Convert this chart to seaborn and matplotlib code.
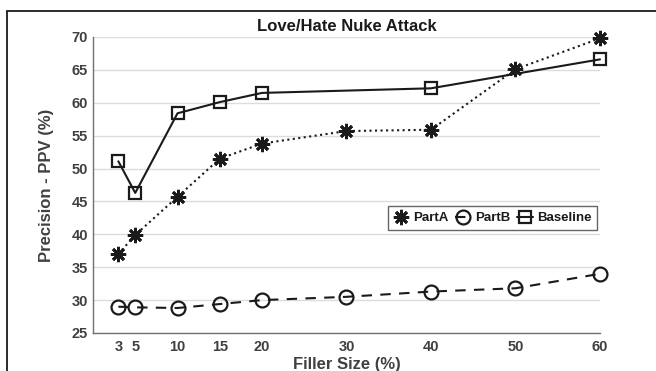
import matplotlib
matplotlib.use("Agg")
import matplotlib.pyplot as plt
import seaborn as sns
import pandas as pd
from matplotlib.patches import Rectangle

# Filler sizes (%) and precision values per detector
filler_all = [3, 5, 10, 15, 20, 30, 40, 50, 60]
part_a = [37.0, 39.9, 45.7, 51.5, 53.8, 55.7, 55.9, 65.1, 69.8]
part_b = [29.0, 28.9, 28.8, 29.4, 30.0, 30.5, 31.3, 31.8, 34.0]
filler_base = [3, 5, 10, 15, 20, 40, 60]
baseline = [51.1, 46.3, 58.4, 60.1, 61.5, 62.2, 66.6]

x_ticks = [3, 5, 10, 15, 20, 30, 40, 50, 60]
y_ticks = [25, 30, 35, 40, 45, 50, 55, 60, 65, 70]

df = pd.concat([
    pd.DataFrame({"filler": filler_all, "ppv": part_a, "method": "PartA"}),
    pd.DataFrame({"filler": filler_all, "ppv": part_b, "method": "PartB"}),
    pd.DataFrame({"filler": filler_base, "ppv": baseline, "method": "Baseline"}),
], ignore_index=True)

sns.set_theme(style="white")
plt.rcParams["font.family"] = ["Liberation Sans", "DejaVu Sans"]
plt.rcParams["font.weight"] = "bold"

fig = plt.figure(figsize=(6.56, 3.71), dpi=100)
ax = fig.add_axes([93 / 656, 1 - 333 / 371, 507 / 656, 296 / 371])

styles = {
    "PartA": dict(marker=(8, 2, 0), ls=":", ms=11, mew=2.0),
    "PartB": dict(marker="o", ls=(0, (5, 4)), ms=10, mew=1.6),
    "Baseline": dict(marker="s", ls="-", ms=8.5, mew=1.6),
}

for name, st in styles.items():
    sub = df[df["method"] == name]
    sns.lineplot(data=sub, x="filler", y="ppv", ax=ax, color="#1a1a1a",
                 linestyle=st["ls"], linewidth=1.5, marker=st["marker"],
                 markersize=st["ms"], markeredgewidth=st["mew"],
                 markerfacecolor="none", markeredgecolor="#1a1a1a",
                 label=name, estimator=None, sort=False, clip_on=False)

ax.set_xlim(0, 60)
ax.set_ylim(25, 70)
ax.set_xticks(x_ticks)
ax.set_yticks(y_ticks)
ax.yaxis.grid(True, color="#dcdcdc", linewidth=1.0)
ax.set_axisbelow(True)

for s in ["top", "right"]:
    ax.spines[s].set_visible(False)
for s in ["left", "bottom"]:
    ax.spines[s].set_color("#707070")
    ax.spines[s].set_linewidth(1.0)

ax.tick_params(axis="both", direction="in", length=4, width=1.0,
               color="#707070", labelsize=10.5, labelcolor="#404040")
ax.tick_params(axis="x", pad=5)
ax.tick_params(axis="y", pad=3.5)
for lab in ax.get_xticklabels() + ax.get_yticklabels():
    lab.set_fontweight("bold")

ax.set_xlabel("Filler Size (%)", fontsize=12, fontweight="bold",
              color="#404040", labelpad=2)
ax.set_ylabel("Precision - PPV (%)", fontsize=12, fontweight="bold",
              color="#404040", labelpad=13)
ax.set_title("Love/Hate Nuke Attack", fontsize=12, fontweight="bold",
             color="#1a1a1a", pad=4)

leg = ax.legend(loc="upper right", bbox_to_anchor=(0.9945, 0.428), ncol=3,
                frameon=True, fancybox=False, fontsize=9.5,
                handlelength=1.2, handletextpad=0.3, columnspacing=0.5,
                borderpad=0.45, borderaxespad=0.0)
leg.get_frame().set_edgecolor("#404040")
leg.get_frame().set_linewidth(1.0)
for t in leg.get_texts():
    t.set_fontweight("bold")
    t.set_color("#1a1a1a")

# outer frame around the figure
fig.patches.append(Rectangle((7 / 656, -0.05), 1.2, 1 - 11 / 371 + 0.05,
                             transform=fig.transFigure, fill=False,
                             edgecolor="#1a1a1a", linewidth=1.3))

fig.savefig("out.png", dpi=100)
